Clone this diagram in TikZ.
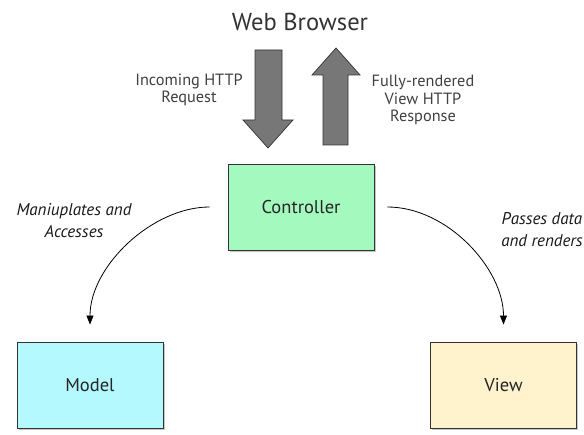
\documentclass[tikz,border=0pt]{standalone}
\usepackage{fontspec}
\setmainfont{PT Sans}
\usetikzlibrary{arrows.meta,shadows}

\definecolor{ctrlgreen}{HTML}{A4F9BE}
\definecolor{modelcyan}{HTML}{B4F9FE}
\definecolor{viewyellow}{HTML}{FEF3CD}
\definecolor{blockgray}{HTML}{777777}
\definecolor{edgegray}{HTML}{333333}

\tikzset{
	mvcbox/.style={draw=edgegray, line width=0.9pt, minimum width=146pt, minimum height=86pt,
		font=\fontsize{18.5}{20}\selectfont, text=black!85,
		drop shadow={opacity=0.45, shadow xshift=1.5pt, shadow yshift=-2.5pt}},
	toplabel/.style={align=center, text=black!75, font=\fontsize{16.3}{17.5}\selectfont},
	sidelabel/.style={align=center, text=black!90, font=\itshape\fontsize{17}{22}\selectfont},
	blockarrow/.style={fill=blockgray, draw=edgegray, line width=0.7pt, line join=miter},
	flow/.style={line width=0.8pt, -{Triangle[length=9pt,width=7pt]}}
}

\begin{document}
\begin{tikzpicture}[x=1pt, y=-1pt]
		%%%%% START %%%%%
		\useasboundingbox (0, 0) rectangle (584, 435);
		
		\node[text=black!80, font=\fontsize{24.5}{26}\selectfont] (browser) at (300, 22) {Web Browser};
		
		% request going down, response coming up
		\draw[blockarrow] (255, 50) -- (282, 50) -- (282, 120) -- (293, 120) -- (268, 148)
			-- (243, 120) -- (255, 120) -- cycle;
		\draw[blockarrow] (323, 145) -- (348, 145) -- (348, 75) -- (360, 75) -- (336, 48)
			-- (312, 75) -- (323, 75) -- cycle;
		
		\node[toplabel] (request) at (189, 90) {Incoming HTTP\\Request};
		\node[toplabel] (response) at (423, 100) {Fully-rendered\\View HTTP\\Response};
		
		\node[mvcbox, fill=ctrlgreen] (controller) at (301, 207) {Controller};
		\node[mvcbox, fill=modelcyan] (model) at (90, 385) {Model};
		\node[mvcbox, fill=viewyellow] (view) at (503.5, 385) {View};
		
		\draw[flow, shorten <=18pt, shorten >=17pt] (controller.west) to[out=180, in=90] (model.north);
		\draw[flow, shorten <=13pt, shorten >=17pt] (controller.east) to[out=0, in=90] (view.north);
		
		\node[sidelabel] (manip) at (74, 221) {Maniuplates and\\Accesses};
		\node[sidelabel] (passes) at (542, 230) {Passes data\\and renders};
		
		%%%%% END %%%%%
	\end{tikzpicture}
\end{document}
